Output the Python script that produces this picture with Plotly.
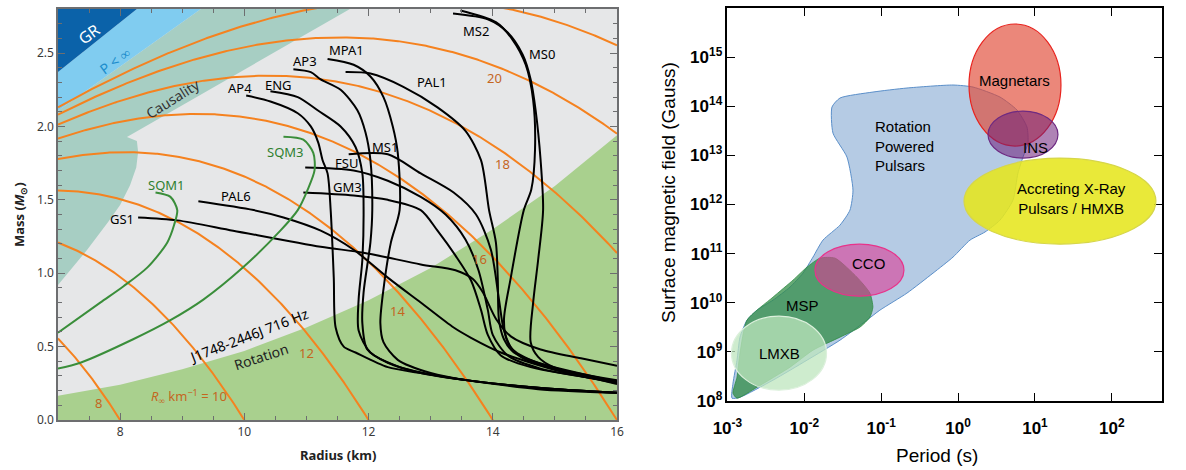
import numpy as np
import plotly.graph_objects as go

# ---------------- Left panel: neutron-star mass-radius plane ----------------
SCHW_KM = 2.953                      # 2GM_sun/c^2 in km
R_INF_LEVELS = [8, 10, 12, 14, 16, 18, 20, 22]
R_INF_TAGS = ["8", "12", "14", "16", "18", "20"]
R_INF_TAG_R = [7.65, 11.0, 12.47, 13.79, 14.15, 14.03]
R_INF_TAG_M = [0.116, 0.456, 0.743, 1.097, 1.744, 2.33]

# constraint regions (radius km, mass Msun)
GR_R = [7.0, 8.27, 7.0]
GR_M = [2.37, 2.80, 2.80]
PINF_R = [7.0, 9.30, 8.27, 7.0]
PINF_M = [2.107, 2.80, 2.80, 2.37]
CAUS_R = [7.0, 9.30, 11.70, 8.11, 8.27, 8.29, 8.26, 8.16, 8.0, 7.81, 7.47, 7.03, 7.0]
CAUS_M = [2.107, 2.80, 2.80, 1.928, 1.90, 1.826, 1.72, 1.60, 1.465, 1.35, 1.16, 0.933, 0.92]
ROT_R = [7.0, 8.0, 9.0, 10.0, 11.0, 12.0, 13.0, 14.0, 15.0, 16.0, 16.0, 7.0]
ROT_M = [0.165, 0.24, 0.345, 0.47, 0.63, 0.815, 1.035, 1.30, 1.595, 1.94, 0.0, 0.0]

# equations of state
AP4_R = [10.03, 10.42, 10.86, 11.07, 11.19, 11.26, 11.34, 11.39, 11.44, 11.47, 11.60, 11.79, 12.31, 12.84, 13.60, 14.73, 16.0]
AP4_M = [2.21, 2.17, 2.09, 2.00, 1.89, 1.77, 1.68, 1.43, 0.97, 0.63, 0.50, 0.46, 0.36, 0.32, 0.27, 0.22, 0.185]
AP3_R = [10.79, 11.07, 11.23, 11.55, 11.82, 11.95, 12.03, 12.06, 12.03, 11.92, 11.90, 11.98, 12.31, 12.84, 13.60, 14.73, 16.0]
AP3_M = [2.39, 2.37, 2.32, 2.25, 2.11, 1.96, 1.77, 1.43, 1.21, 0.87, 0.66, 0.48, 0.39, 0.32, 0.27, 0.22, 0.185]
ENG_R = [10.42, 10.86, 11.18, 11.55, 11.79, 11.90, 11.92, 11.90, 11.84, 11.84, 12.03, 12.44, 13.0, 13.60, 14.73, 16.0]
ENG_M = [2.24, 2.20, 2.11, 2.00, 1.86, 1.68, 1.43, 1.09, 0.82, 0.61, 0.46, 0.37, 0.31, 0.27, 0.21, 0.185]
MPA1_R = [11.34, 11.76, 12.03, 12.24, 12.39, 12.47, 12.50, 12.36, 12.24, 12.19, 12.24, 12.47, 13.0, 13.60, 14.73, 16.0]
MPA1_M = [2.46, 2.42, 2.34, 2.20, 2.00, 1.82, 1.43, 1.21, 0.89, 0.66, 0.53, 0.41, 0.32, 0.27, 0.22, 0.185]
PAL1_R = [11.63, 12.03, 12.56, 13.11, 13.56, 13.81, 13.94, 14.05, 14.08, 14.10, 14.18, 14.34, 14.73, 16.0]
PAL1_M = [2.37, 2.36, 2.27, 2.13, 1.97, 1.77, 1.43, 1.21, 0.97, 0.68, 0.55, 0.46, 0.39, 0.26]
MS2_R = [13.36, 13.92, 14.24, 14.48, 14.61, 14.69, 14.77, 14.81, 14.73, 14.65, 14.61, 14.73, 14.98, 16.0]
MS2_M = [2.77, 2.73, 2.64, 2.49, 2.32, 2.11, 1.77, 1.43, 1.09, 0.80, 0.53, 0.43, 0.36, 0.26]
MS0_R = [13.48, 14.05, 14.32, 14.53, 14.65, 14.68, 14.62, 14.50, 14.29, 14.18, 14.24, 14.45, 15.10, 16.0]
MS0_M = [2.79, 2.71, 2.59, 2.42, 2.18, 1.84, 1.57, 1.43, 0.97, 0.68, 0.53, 0.43, 0.34, 0.245]
MS1_R = [11.68, 12.31, 12.84, 13.37, 13.73, 13.97, 14.10, 14.18, 14.32, 14.85, 16.0]
MS1_M = [1.81, 1.81, 1.68, 1.55, 1.40, 1.16, 0.82, 0.61, 0.48, 0.37, 0.27]
FSU_R = [10.98, 11.76, 12.31, 12.84, 13.24, 13.56, 13.77, 13.92, 14.0, 14.24, 14.77, 16.0]
FSU_M = [1.72, 1.70, 1.63, 1.52, 1.40, 1.23, 1.02, 0.75, 0.58, 0.44, 0.35, 0.26]
GM3_R = [10.95, 11.76, 12.31, 12.84, 13.11, 13.40, 13.65, 13.81, 13.92, 14.13, 14.61, 16.0]
GM3_M = [1.55, 1.53, 1.50, 1.43, 1.29, 1.12, 0.95, 0.75, 0.58, 0.44, 0.36, 0.26]
PAL6_R = [9.26, 10.15, 10.63, 11.23, 11.76, 12.31, 12.84, 13.37, 13.65, 14.13, 15.10, 16.0]
PAL6_M = [1.49, 1.43, 1.38, 1.29, 1.16, 0.97, 0.80, 0.63, 0.56, 0.46, 0.33, 0.25]
GS1_R = [8.29, 8.92, 9.82, 11.23, 11.92, 12.84, 13.40, 13.68, 13.84, 14.05, 14.29, 14.77, 15.42, 16.0]
GS1_M = [1.38, 1.36, 1.29, 1.18, 1.14, 1.06, 1.02, 0.96, 0.87, 0.69, 0.57, 0.48, 0.42, 0.37]
SQM1_R = [8.57, 8.81, 8.92, 8.87, 8.76, 8.44, 8.05, 7.68, 7.0]
SQM1_M = [1.55, 1.52, 1.43, 1.33, 1.21, 1.04, 0.91, 0.80, 0.595]
SQM3_R = [10.63, 10.95, 11.11, 11.13, 11.02, 10.86, 10.58, 9.98, 9.34, 8.81, 8.21, 7.36, 7.0]
SQM3_M = [1.93, 1.91, 1.82, 1.70, 1.57, 1.43, 1.29, 1.04, 0.82, 0.68, 0.55, 0.39, 0.35]

EOS_NAMES = ["GS1", "PAL6", "GM3", "FSU", "MS1", "AP4", "ENG", "AP3", "MPA1", "PAL1", "MS2", "MS0"]
EOS_TAG_R = [8.03, 9.87, 11.66, 11.645, 12.27, 9.935, 10.55, 10.98, 11.645, 13.02, 13.73, 14.79]
EOS_TAG_M = [1.369, 1.526, 1.587, 1.751, 1.86, 2.262, 2.282, 2.446, 2.52, 2.303, 2.65, 2.493]
SQM_NAMES = ["SQM1", "SQM3"]
SQM_TAG_R = [8.74, 10.66]
SQM_TAG_M = [1.601, 1.826]

# ---------------- Right panel: period vs surface magnetic field ----------------
# outlines in log10(P / s), log10(B / G)
RPP_LOGP = [-1.64, -1.536, -1.107, -0.665, -0.066, 0.194, 0.545, 0.766, 0.896, 0.909, 0.844, 0.779, 0.714,
            0.545, 0.35, 0.155, -0.066, -0.326, -0.665, -1.017, -1.186, -1.536, -1.965, -2.407, -2.836,
            -2.94, -2.927, -2.875, -2.836, -2.745, -2.615, -2.407, -2.186, -2.017, -1.887, -1.757, -1.536,
            -1.406, -1.367, -1.445, -1.627, -1.64]
RPP_LOGB = [13.984, 14.167, 14.289, 14.371, 14.432, 14.391, 14.187, 13.923, 13.576, 13.251, 12.965, 12.64, 12.09,
            11.682, 11.44, 11.275, 10.929, 10.603, 10.196, 9.849, 9.646, 9.238, 8.831, 8.424, 8.077,
            8.057, 8.363, 8.831, 9.299, 9.646, 9.849, 10.053, 10.318, 10.603, 10.929, 11.275, 11.58,
            11.886, 12.293, 12.965, 13.454, 13.984]
MSP_LOGP = [-2.745, -2.407, -2.147, -1.965, -1.796, -1.6, -1.316, -1.147, -1.108, -1.147, -1.277, -1.536,
            -1.887, -2.186, -2.615, -2.875, -2.927, -2.875, -2.836, -2.745]
MSP_LOGB = [9.646, 10.114, 10.46, 10.725, 10.908, 10.908, 10.521, 10.196, 9.91, 9.707, 9.503, 9.3,
            9.035, 8.689, 8.281, 8.057, 8.159, 8.485, 8.974, 9.646]

# ellipses: (logP min, logP max), (logB min, logB max)
LMXB_P, LMXB_B = (-2.947, -1.711), (8.22, 9.727)
CCO_P, CCO_B = (-1.861, -0.704), (10.134, 11.193)
MAG_P, MAG_B = (0.142, 1.338), (13.189, 15.674)
INS_P, INS_B = (0.389, 1.299), (12.945, 13.902)
HMXB_P, HMXB_B = (0.077, 2.573), (11.193, 12.945)

# class names and their label positions (log10 P, log10 B)
CLASS_NAMES = ["Magnetars", "INS", "Accreting X-Ray<br>Pulsars / HMXB", "CCO", "MSP", "LMXB"]
CLASS_LOGP = [0.74, 1.013, 1.48, -1.159, -2.017, -2.319]
CLASS_LOGB = [14.534, 13.169, 12.13, 10.806, 9.951, 8.974]

P_TICKS = [-3, -2, -1, 0, 1, 2]
B_TICKS = [8, 9, 10, 11, 12, 13, 14, 15, 16]

# ---------------- colours ----------------
BG_GREY = "#e6e7e8"
ROT_GREEN = "#a9d08e"
CAUS_TEAL = "#a7cec3"
PINF_BLUE = "#80ccf0"
GR_BLUE = "#0b62a9"
ORANGE = "#f5821f"
ORANGE_TXT = "#c4661f"
SQM_GREEN = "#3a8e3a"
LEFT_FONT = "Noto Sans"
RIGHT_FONT = "Liberation Sans"

fig = go.Figure()


def region(rr, mm, color):
    fig.add_trace(go.Scatter(x=rr, y=mm, mode="lines", fill="toself", fillcolor=color,
                             line=dict(width=0, color=color), hoverinfo="skip",
                             xaxis="x", yaxis="y"))


region(ROT_R, ROT_M, ROT_GREEN)
region(CAUS_R, CAUS_M, CAUS_TEAL)
region(PINF_R, PINF_M, PINF_BLUE)
region(GR_R, GR_M, GR_BLUE)

# contours of constant apparent radius R_inf = R / sqrt(1 - 2GM/Rc^2)
r_grid = np.linspace(7.0, 16.0, 361)
for rinf in R_INF_LEVELS:
    m_curve = r_grid * (1.0 - (r_grid / rinf) ** 2) / SCHW_KM
    keep = m_curve > -0.05
    fig.add_trace(go.Scatter(x=r_grid[keep], y=m_curve[keep], mode="lines",
                             line=dict(color=ORANGE, width=2), hoverinfo="skip",
                             xaxis="x", yaxis="y"))

eos_curves = [(GS1_R, GS1_M), (PAL6_R, PAL6_M), (GM3_R, GM3_M), (FSU_R, FSU_M), (MS1_R, MS1_M),
              (AP4_R, AP4_M), (ENG_R, ENG_M), (AP3_R, AP3_M), (MPA1_R, MPA1_M), (PAL1_R, PAL1_M),
              (MS2_R, MS2_M), (MS0_R, MS0_M)]
for rr, mm in eos_curves:
    fig.add_trace(go.Scatter(x=rr, y=mm, mode="lines",
                             line=dict(color="black", width=2, shape="spline", smoothing=0.8),
                             hoverinfo="skip", xaxis="x", yaxis="y"))
for rr, mm in [(SQM1_R, SQM1_M), (SQM3_R, SQM3_M)]:
    fig.add_trace(go.Scatter(x=rr, y=mm, mode="lines",
                             line=dict(color=SQM_GREEN, width=2, shape="spline", smoothing=0.8),
                             hoverinfo="skip", xaxis="x", yaxis="y"))

# right panel polygons
fig.add_trace(go.Scatter(x=10 ** np.array(RPP_LOGP), y=10 ** np.array(RPP_LOGB), mode="lines",
                         fill="toself", fillcolor="rgba(120,160,205,0.55)",
                         line=dict(color="#5b8fc9", width=1, shape="spline", smoothing=0.6),
                         hoverinfo="skip", xaxis="x2", yaxis="y2"))
fig.add_trace(go.Scatter(x=10 ** np.array(MSP_LOGP), y=10 ** np.array(MSP_LOGB), mode="lines",
                         fill="toself", fillcolor="rgba(50,140,70,0.75)",
                         line=dict(color="rgba(50,140,70,0.8)", width=1, shape="spline", smoothing=0.6),
                         hoverinfo="skip", xaxis="x2", yaxis="y2"))

shapes = [dict(type="rect", xref="x domain", yref="y domain", x0=0, x1=1, y0=0, y1=1,
               fillcolor=BG_GREY, line=dict(width=0), layer="below")]


def ellipse(prange, brange, fill, edge):
    shapes.append(dict(type="circle", xref="x2", yref="y2",
                       x0=10 ** prange[0], x1=10 ** prange[1],
                       y0=10 ** brange[0], y1=10 ** brange[1],
                       fillcolor=fill, line=dict(color=edge, width=1.2), layer="above"))


ellipse(LMXB_P, LMXB_B, "rgba(190,230,190,0.75)", "#dcf0dc")
ellipse(CCO_P, CCO_B, "rgba(220,60,150,0.6)", "#e8338a")
ellipse(MAG_P, MAG_B, "rgba(225,70,50,0.65)", "#e8231e")
ellipse(INS_P, INS_B, "rgba(110,30,120,0.55)", "#6e2a82")
ellipse(HMXB_P, HMXB_B, "rgba(230,230,30,0.88)", "#d6d64a")

ann = []


def label(x, y, text, color="black", size=13, angle=0, font=LEFT_FONT, xref="x", yref="y", **kw):
    ann.append(dict(x=x, y=y, xref=xref, yref=yref, text=text, showarrow=False, textangle=angle,
                    font=dict(family=font, size=size, color=color), **kw))


label(7.5, 2.63, "GR", "white", 16, -36)
label(7.92, 2.45, "P < ∞", "#1d8ccc", 14, -36)
label(8.855, 2.187, "Causality", "#333333", 14, -32)
label(10.065, 0.579, "J1748-2446J 716 Hz", "black", 14, -21)
label(10.27, 0.436, "Rotation", "#222222", 14, -18)
label(9.11, 0.157, "<i>R</i><sub>∞</sub> km<sup>−1</sup> = 10", ORANGE_TXT, 13)
for t, x, y in zip(R_INF_TAGS, R_INF_TAG_R, R_INF_TAG_M):
    label(x, y, t, ORANGE_TXT, 13)
for t, x, y in zip(EOS_NAMES, EOS_TAG_R, EOS_TAG_M):
    label(x, y, t, "black", 13)
for t, x, y in zip(SQM_NAMES, SQM_TAG_R, SQM_TAG_M):
    label(x, y, t, "#2f7f2f", 13)

label(20 / 1186, 1 - 215 / 470, "<b>Mass (<i>M</i><sub>⊙</sub>)</b>", "#222222", 13, -90,
      xref="paper", yref="paper", xanchor="center", yanchor="middle")
label(338 / 1186, 1 - 444 / 470, "<b>Radius (km)</b>", "#222222", 13, xref="paper", yref="paper",
      xanchor="center", yanchor="top")

# right panel text (annotation coordinates on log axes are log10 values)
label(-1.107, 13.19, "Rotation<br>Powered<br>Pulsars", "black", 15, font=RIGHT_FONT,
      xref="x2", yref="y2", align="left", xanchor="left")
for t, x, y in zip(CLASS_NAMES, CLASS_LOGP, CLASS_LOGB):
    label(x, y, t, "black", 15, font=RIGHT_FONT, xref="x2", yref="y2")
label(668 / 1186, 1 - 193 / 470, "Surface magnetic field (Gauss)", "black", 19, -90, font=RIGHT_FONT,
      xref="paper", yref="paper", xanchor="center", yanchor="middle")
label(937 / 1186, 1 - 443 / 470, "Period (s)", "black", 19, font=RIGHT_FONT, xref="paper", yref="paper",
      xanchor="center", yanchor="top")

left_axis = dict(showgrid=False, zeroline=False, showline=True, linecolor="#6d6e70", linewidth=1.5,
                 mirror="allticks", ticks="inside", ticklen=7, tickcolor="#6d6e70", tickwidth=1.2,
                 automargin=False,
                 tickfont=dict(family=LEFT_FONT, size=12, color="#3a3a3a"))
right_axis = dict(showgrid=False, zeroline=False, showline=True, linecolor="black", linewidth=1.5,
                  mirror="allticks", ticks="inside", ticklen=8, tickcolor="black", tickwidth=1.2,
                  automargin=False,
                  tickfont=dict(family=RIGHT_FONT, size=17, color="black", weight="bold"))

fig.update_layout(
    width=1186, height=470, margin=dict(l=0, r=0, t=0, b=0, autoexpand=False),
    paper_bgcolor="white", plot_bgcolor="rgba(0,0,0,0)", showlegend=False,
    xaxis=dict(left_axis, domain=[58 / 1186, 617 / 1186], range=[7, 16], anchor="y",
               tickmode="array", tickvals=[8, 10, 12, 14, 16],
               minor=dict(dtick=0.5, tick0=7, ticklen=4, ticks="inside", tickcolor="#6d6e70")),
    yaxis=dict(left_axis, domain=[1 - 420 / 470, 1 - 9 / 470], range=[0, 2.8], anchor="x",
               tickmode="array", tickvals=[0, 0.5, 1.0, 1.5, 2.0, 2.5],
               ticktext=["0.0", "0.5", "1.0", "1.5", "2.0", "2.5"],
               minor=dict(dtick=0.1, tick0=0, ticklen=4, ticks="inside", tickcolor="#6d6e70")),
    xaxis2=dict(right_axis, domain=[727.4 / 1186, 1161.7 / 1186], type="log", range=[-3, 2.648],
                anchor="y2", tickmode="array", tickvals=[10.0 ** p for p in P_TICKS],
                ticktext=[f"10<sup>{p}</sup>" for p in P_TICKS], ticklabelstandoff=11),
    yaxis2=dict(right_axis, domain=[1 - 401 / 470, 1 - 8 / 470], type="log", range=[8, 16],
                anchor="x2", tickmode="array", tickvals=[10.0 ** b for b in B_TICKS],
                ticktext=[f"10<sup>{b}</sup>" for b in B_TICKS]),
    shapes=shapes, annotations=ann,
)

fig.write_html("out.html")
